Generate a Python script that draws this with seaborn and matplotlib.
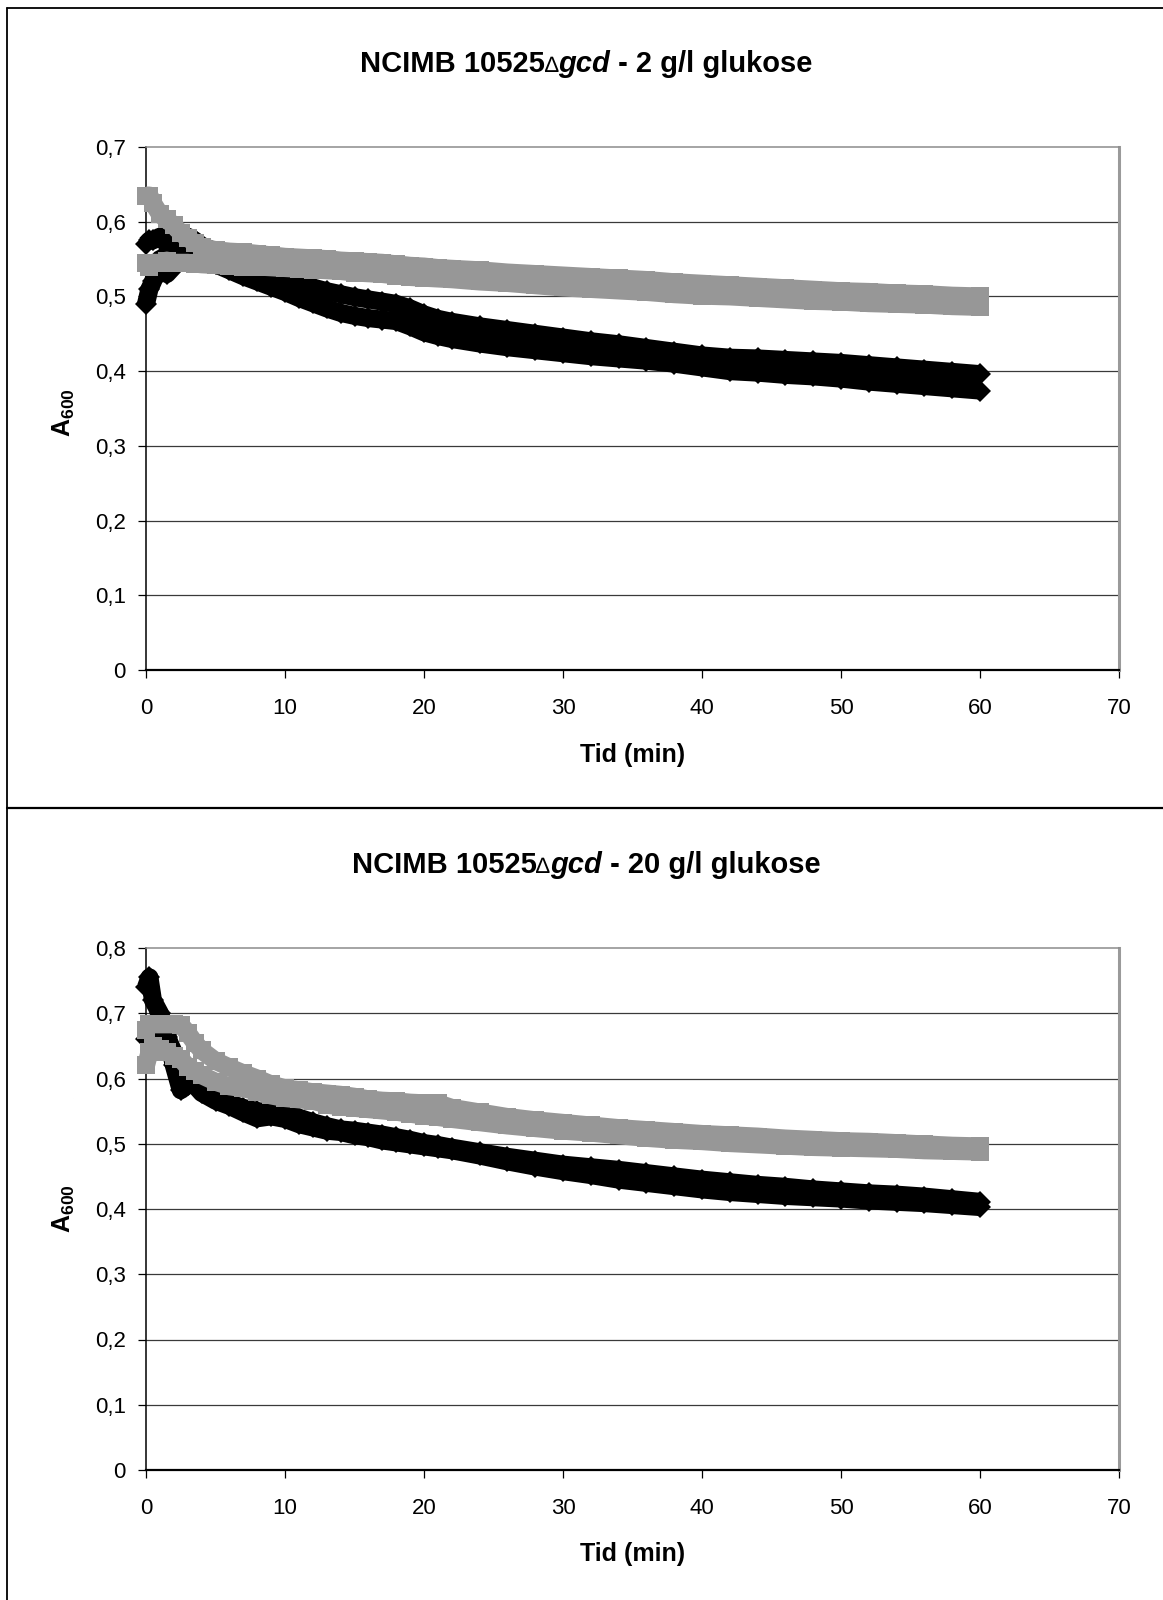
import numpy as np
import pandas as pd
import matplotlib
matplotlib.use("Agg")
import matplotlib.pyplot as plt
from matplotlib.lines import Line2D
import seaborn as sns

# Sampling times (min), shared by every series
tid = [0, 0.25, 0.5, 1, 1.5, 2, 2.5, 3, 3.5, 4,
       5, 6, 7, 8, 9, 10, 11, 12, 13, 14, 15, 16, 17, 18, 19, 20, 21,
       22, 24, 26, 28, 30, 32, 34, 36, 38, 40, 42, 44, 46, 48, 50, 52, 54, 56, 58, 60]

# 2 g/l glukose
g2_black_1 = [0.570, 0.575, 0.575, 0.580, 0.570, 0.565, 0.572, 0.580, 0.575, 0.568,
              0.560, 0.553, 0.547, 0.540, 0.533, 0.525, 0.518, 0.512, 0.507, 0.503, 0.499, 0.496, 0.493, 0.490, 0.484, 0.476, 0.470,
              0.466, 0.460, 0.455, 0.450, 0.445, 0.440, 0.436, 0.431, 0.426, 0.421, 0.418, 0.417, 0.415, 0.413, 0.411, 0.408, 0.405, 0.402, 0.399, 0.396]
g2_black_2 = [0.490, 0.510, 0.520, 0.550, 0.530, 0.540, 0.550, 0.560, 0.555, 0.550,
              0.543, 0.535, 0.527, 0.520, 0.513, 0.506, 0.498, 0.491, 0.484, 0.478, 0.474, 0.471, 0.469, 0.467, 0.460, 0.452, 0.447,
              0.443, 0.437, 0.432, 0.428, 0.424, 0.420, 0.417, 0.414, 0.410, 0.405, 0.400, 0.398, 0.395, 0.393, 0.390, 0.386, 0.383, 0.380, 0.377, 0.374]
g2_grey_1 = [0.635, 0.635, 0.625, 0.610, 0.603, 0.595, 0.585, 0.578, 0.572, 0.566,
             0.562, 0.560, 0.559, 0.557, 0.555, 0.553, 0.552, 0.551, 0.550, 0.548, 0.547, 0.546, 0.545, 0.543, 0.541, 0.540, 0.538,
             0.537, 0.535, 0.532, 0.530, 0.528, 0.526, 0.524, 0.522, 0.519, 0.517, 0.515, 0.513, 0.511, 0.509, 0.507, 0.506, 0.504, 0.503, 0.501, 0.500]
g2_grey_2 = [0.545, 0.540, 0.545, 0.545, 0.548, 0.545, 0.545, 0.545, 0.544, 0.543,
             0.542, 0.541, 0.540, 0.540, 0.539, 0.538, 0.537, 0.536, 0.535, 0.534, 0.532, 0.531, 0.530, 0.528, 0.526, 0.525, 0.524,
             0.523, 0.520, 0.518, 0.515, 0.512, 0.510, 0.508, 0.506, 0.503, 0.501, 0.500, 0.498, 0.496, 0.494, 0.493, 0.491, 0.490, 0.489, 0.487, 0.486]

# 20 g/l glukose
g20_black_1 = [0.740, 0.755, 0.720, 0.700, 0.670, 0.620, 0.582, 0.590, 0.595, 0.585,
               0.572, 0.562, 0.555, 0.550, 0.548, 0.548, 0.540, 0.533, 0.527, 0.522, 0.520, 0.517, 0.514, 0.510, 0.506, 0.501, 0.498,
               0.494, 0.487, 0.480, 0.474, 0.468, 0.464, 0.460, 0.455, 0.450, 0.445, 0.441, 0.437, 0.434, 0.430, 0.427, 0.424, 0.422, 0.419, 0.415, 0.411]
g20_black_2 = [0.660, 0.670, 0.685, 0.675, 0.664, 0.640, 0.620, 0.600, 0.590, 0.578,
               0.566, 0.558, 0.548, 0.539, 0.542, 0.538, 0.530, 0.525, 0.520, 0.518, 0.513, 0.510, 0.505, 0.502, 0.499, 0.496, 0.493,
               0.490, 0.482, 0.473, 0.465, 0.458, 0.452, 0.445, 0.440, 0.435, 0.430, 0.426, 0.423, 0.420, 0.418, 0.416, 0.413, 0.411, 0.409, 0.406, 0.403]
g20_grey_1 = [0.675, 0.683, 0.683, 0.683, 0.683, 0.683, 0.682, 0.670, 0.655, 0.643,
              0.627, 0.617, 0.608, 0.600, 0.591, 0.585, 0.582, 0.579, 0.577, 0.575, 0.572, 0.568, 0.566, 0.565, 0.563, 0.562, 0.562,
              0.555, 0.548, 0.541, 0.536, 0.532, 0.528, 0.524, 0.521, 0.518, 0.515, 0.513, 0.511, 0.508, 0.506, 0.504, 0.503, 0.501, 0.499, 0.497, 0.496]
g20_grey_2 = [0.620, 0.640, 0.650, 0.645, 0.640, 0.635, 0.630, 0.618, 0.612, 0.605,
              0.595, 0.588, 0.585, 0.580, 0.574, 0.570, 0.568, 0.566, 0.560, 0.557, 0.555, 0.553, 0.551, 0.549, 0.546, 0.543, 0.541,
              0.538, 0.533, 0.528, 0.524, 0.520, 0.517, 0.513, 0.509, 0.506, 0.504, 0.501, 0.499, 0.497, 0.495, 0.494, 0.493, 0.492, 0.490, 0.489, 0.488]

x_ticks = [0, 10, 20, 30, 40, 50, 60, 70]
y_ticks_2 = [0, 0.1, 0.2, 0.3, 0.4, 0.5, 0.6, 0.7]
y_ticks_20 = [0, 0.1, 0.2, 0.3, 0.4, 0.5, 0.6, 0.7, 0.8]

sns.set_theme(style="white")
FONT = ["Liberation Sans", "DejaVu Sans"]
plt.rcParams["font.family"] = FONT
plt.rcParams["mathtext.fontset"] = "custom"
plt.rcParams["mathtext.rm"] = "Liberation Sans"
plt.rcParams["mathtext.bf"] = "Liberation Sans:bold"

W, H = 1163, 1600
fig = plt.figure(figsize=(W / 100, H / 100), dpi=100)
fig.patch.set_facecolor("white")

BLACK = "#000000"
GREY = "#979797"
palette = {"b1": BLACK, "b2": BLACK, "g1": GREY, "g2": GREY}
markers = {"b1": "D", "b2": "D", "g1": "s", "g2": "s"}


def frame(series):
    parts = []
    for name, vals in series.items():
        parts.append(pd.DataFrame({"Tid": tid, "A600": vals, "serie": name}))
    return pd.concat(parts, ignore_index=True)


def fmt(v):
    return "0" if v == 0 else f"{v:.1f}".replace(".", ",")


def draw_panel(ax, df, yticks):
    for name in ["b1", "b2", "g1", "g2"]:
        sub = df[df["serie"] == name]
        sns.lineplot(data=sub, x="Tid", y="A600", color=palette[name],
                     marker=markers[name], markersize=12.5 if markers[name] == "s" else 11.5,
                     markeredgewidth=0, linewidth=13, estimator=None, sort=False,
                     legend=False, ax=ax, clip_on=False, zorder=3)
    for ln in ax.lines:
        ln.set_solid_capstyle("butt")
        ln.set_solid_joinstyle("round")
    ax.set_xlim(0, 70)
    ax.set_ylim(0, yticks[-1])
    ax.set_xticks(x_ticks)
    ax.set_xticklabels([str(v) for v in x_ticks])
    ax.set_yticks(yticks)
    ax.set_yticklabels([fmt(v) for v in yticks])
    for v in yticks[1:-1]:
        ax.axhline(v, color="#3a3a3a", lw=0.9, zorder=1)
    ax.spines["left"].set_color("black")
    ax.spines["left"].set_linewidth(1.1)
    ax.spines["bottom"].set_color("black")
    ax.spines["bottom"].set_linewidth(1.6)
    ax.spines["top"].set_color("#8c8c8c")
    ax.spines["top"].set_linewidth(1.1)
    ax.spines["right"].set_color("#9a9a9a")
    ax.spines["right"].set_linewidth(2.2)
    ax.tick_params(axis="both", which="major", direction="out", length=5.5, width=0.9,
                   color="black", labelsize=16, labelcolor="black")
    ax.tick_params(axis="y", pad=9, left=True)
    ax.tick_params(axis="x", pad=14.5, bottom=True)
    ax.set_xlabel("Tid (min)", fontsize=18, fontweight="bold", color="black")
    ax.xaxis.label.set_va("center")
    ax.set_ylabel(r"$\mathbf{A}_{\mathbf{600}}$", fontsize=18, color="black")
    ax.yaxis.label.set_va("center")
    ax.yaxis.label.set_ha("center")
    ax.set_facecolor("white")
    ax.grid(False)


def title(y_base_px, parts):
    r = fig.canvas.get_renderer()
    texts, widths = [], []
    for s, weight, style, size in parts:
        t = fig.text(0, 1 - y_base_px / H, s, fontsize=size, fontweight=weight,
                     fontstyle=style, va="baseline", ha="left", family=FONT, color="black")
        widths.append(t.get_window_extent(r).width)
        texts.append(t)
    x = 586 - sum(widths) / 2
    for t, w in zip(texts, widths):
        t.set_x(x / W)
        x += w


ax_top = fig.add_axes([146 / W, 1 - 670 / H, 973 / W, 523 / H])
ax_bot = fig.add_axes([146 / W, 1 - 1470 / H, 973 / W, 522 / H])

draw_panel(ax_top, frame({"b1": g2_black_1, "b2": g2_black_2, "g1": g2_grey_1, "g2": g2_grey_2}), y_ticks_2)
draw_panel(ax_bot, frame({"b1": g20_black_1, "b2": g20_black_2, "g1": g20_grey_1, "g2": g20_grey_2}), y_ticks_20)

ax_top.xaxis.set_label_coords(0.5, (670 - 755) / 523)
ax_bot.xaxis.set_label_coords(0.5, (1470 - 1554) / 522)
ax_top.yaxis.set_label_coords((64 - 146) / 973, (670 - 413) / 523)
ax_bot.yaxis.set_label_coords((64 - 146) / 973, (1470 - 1209) / 522)

title(72, [("NCIMB 10525", "bold", "normal", 21), ("\u2206", "normal", "normal", 16),
           ("gcd", "bold", "italic", 21), (" - 2 g/l glukose", "bold", "normal", 21)])
title(873, [("NCIMB 10525", "bold", "normal", 21), ("\u2206", "normal", "normal", 16),
            ("gcd", "bold", "italic", 21), (" - 20 g/l glukose", "bold", "normal", 21)])

# chart-area frames around the two panels
lw = 1.3
fig.add_artist(Line2D([7 / W, 7 / W], [0, 1 - 8 / H], transform=fig.transFigure, color="black", lw=lw))
fig.add_artist(Line2D([7 / W, 1], [1 - 8 / H, 1 - 8 / H], transform=fig.transFigure, color="black", lw=lw))
fig.add_artist(Line2D([7 / W, 1], [1 - 808 / H, 1 - 808 / H], transform=fig.transFigure, color="black", lw=lw + 0.3))

fig.savefig("out.png", dpi=100, facecolor="white")
